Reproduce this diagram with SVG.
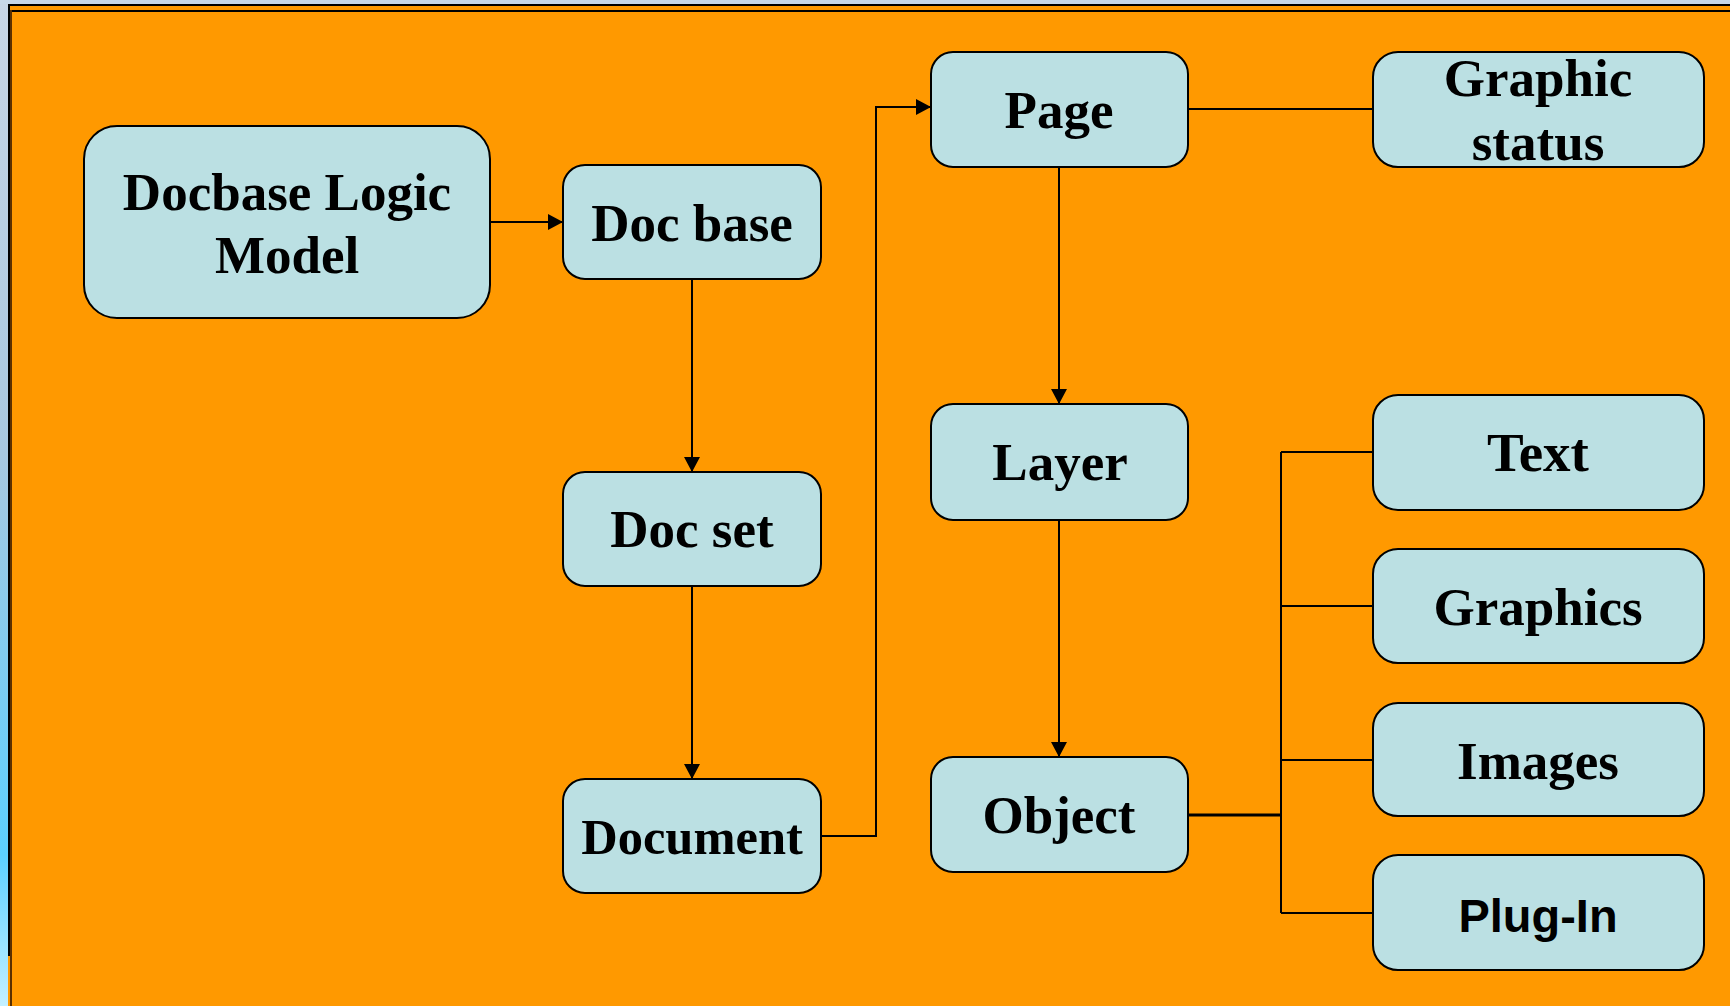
<svg xmlns="http://www.w3.org/2000/svg" width="1730" height="1006" viewBox="0 0 1730 1006">
  <defs>
    <linearGradient id="bgL" x1="0" y1="0" x2="0" y2="1">
      <stop offset="0" stop-color="#c8d6e6"/>
      <stop offset="0.45" stop-color="#a8c8e0"/>
      <stop offset="0.85" stop-color="#5cd0ff"/>
      <stop offset="1" stop-color="#c4f0ff"/>
    </linearGradient>
    <marker id="arr" markerUnits="userSpaceOnUse" markerWidth="16" markerHeight="16" viewBox="0 0 16 16" refX="15" refY="8" orient="auto">
      <path d="M0,0 L15,8 L0,16 Z" fill="#000"/>
    </marker>
  </defs>
  <style>
    .node { fill: #bbe0e3; stroke: #000; stroke-width: 2; }
    .lbl { font-family: "Liberation Serif", "Times New Roman", serif; font-weight: bold; font-size: 53px; fill: #000; text-anchor: middle; }
    .lbls { font-family: "Liberation Sans", Arial, sans-serif; font-weight: bold; font-size: 47px; fill: #000; text-anchor: middle; }
    .conn { fill: none; stroke: #000; stroke-width: 2; }
  </style>

  <!-- background and frame -->
  <rect x="0" y="0" width="1730" height="1006" fill="url(#bgL)"/>
  <rect x="0" y="0" width="1730" height="4" fill="#c8d8e8"/>
  <rect x="8" y="4" width="1722" height="1002" fill="#ff9900"/>
  <line x1="8" y1="5" x2="1730" y2="5" stroke="#000" stroke-width="2"/>
  <line x1="9" y1="4" x2="9" y2="956" stroke="#000" stroke-width="2"/>
  <line x1="11" y1="11" x2="1730" y2="11" stroke="#000" stroke-width="2"/>
  <line x1="11" y1="10" x2="11" y2="1006" stroke="#5a3000" stroke-width="2"/>

  <g id="connectors">
    <line class="conn" x1="490" y1="222" x2="563" y2="222" marker-end="url(#arr)"/>
    <line class="conn" x1="692" y1="279" x2="692" y2="472" marker-end="url(#arr)"/>
    <line class="conn" x1="692" y1="586" x2="692" y2="779" marker-end="url(#arr)"/>
    <polyline class="conn" points="821,836 876,836 876,107 931,107" marker-end="url(#arr)"/>
    <line class="conn" x1="1188" y1="109" x2="1373" y2="109"/>
    <line class="conn" x1="1059" y1="167" x2="1059" y2="404" marker-end="url(#arr)"/>
    <line class="conn" x1="1059" y1="520" x2="1059" y2="757" marker-end="url(#arr)"/>
    <line class="conn" x1="1188" y1="815" x2="1281" y2="815" style="stroke-width:3"/>
    <line class="conn" x1="1281" y1="452" x2="1281" y2="913"/>
    <line class="conn" x1="1281" y1="452" x2="1373" y2="452"/>
    <line class="conn" x1="1281" y1="606" x2="1373" y2="606"/>
    <line class="conn" x1="1281" y1="760" x2="1373" y2="760"/>
    <line class="conn" x1="1281" y1="913" x2="1373" y2="913"/>
  </g>

  <g id="node-docbase-logic-model">
    <rect class="node" x="84" y="126" width="406" height="192" rx="33" ry="33"/>
    <text class="lbl" x="287" y="210">Docbase Logic</text>
    <text class="lbl" x="287" y="273">Model</text>
  </g>
  <g id="node-doc-base">
    <rect class="node" x="563" y="165" width="258" height="114" rx="22" ry="22"/>
    <text class="lbl" x="692" y="241">Doc base</text>
  </g>
  <g id="node-doc-set">
    <rect class="node" x="563" y="472" width="258" height="114" rx="22" ry="22"/>
    <text class="lbl" x="692" y="547">Doc set</text>
  </g>
  <g id="node-document">
    <rect class="node" x="563" y="779" width="258" height="114" rx="22" ry="22"/>
    <text class="lbl" x="692" y="854" style="font-size:50.5px">Document</text>
  </g>
  <g id="node-page">
    <rect class="node" x="931" y="52" width="257" height="115" rx="22" ry="22"/>
    <text class="lbl" x="1059" y="128">Page</text>
  </g>
  <g id="node-layer">
    <rect class="node" x="931" y="404" width="257" height="116" rx="22" ry="22"/>
    <text class="lbl" x="1060" y="480">Layer</text>
  </g>
  <g id="node-object">
    <rect class="node" x="931" y="757" width="257" height="115" rx="22" ry="22"/>
    <text class="lbl" x="1059" y="833">Object</text>
  </g>
  <g id="node-graphic-status">
    <rect class="node" x="1373" y="52" width="331" height="115" rx="25" ry="25"/>
    <text class="lbl" x="1538" y="96">Graphic</text>
    <text class="lbl" x="1538" y="160">status</text>
  </g>
  <g id="node-text">
    <rect class="node" x="1373" y="395" width="331" height="115" rx="25" ry="25"/>
    <text class="lbl" x="1538" y="471" style="font-size:55px">Text</text>
  </g>
  <g id="node-graphics">
    <rect class="node" x="1373" y="549" width="331" height="114" rx="25" ry="25"/>
    <text class="lbl" x="1538" y="625">Graphics</text>
  </g>
  <g id="node-images">
    <rect class="node" x="1373" y="703" width="331" height="113" rx="25" ry="25"/>
    <text class="lbl" x="1538" y="779">Images</text>
  </g>
  <g id="node-plug-in">
    <rect class="node" x="1373" y="855" width="331" height="115" rx="25" ry="25"/>
    <text class="lbls" x="1538" y="932">Plug-In</text>
  </g>
</svg>
